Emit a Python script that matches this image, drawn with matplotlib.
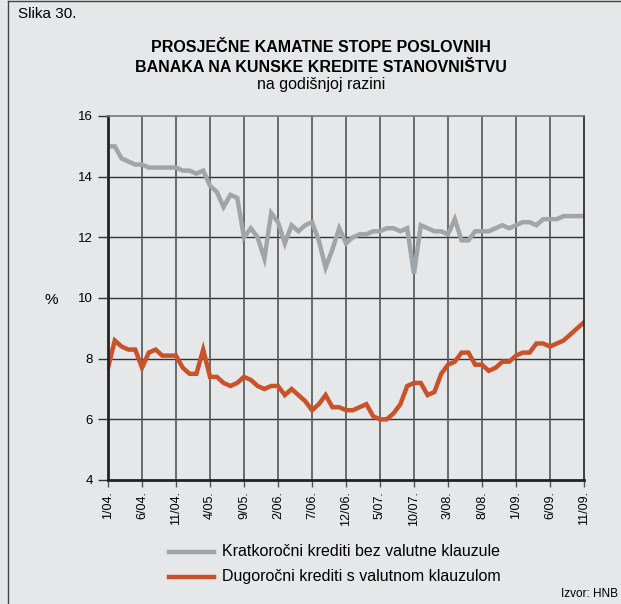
import numpy as np
import matplotlib
matplotlib.use("Agg")
import matplotlib.pyplot as plt
from matplotlib.lines import Line2D

plt.rcParams['font.family'] = ['Liberation Sans', 'DejaVu Sans']

# monthly data, 1/04 .. 11/09
months = [f"{m}/{y:02d}." for y in range(4, 10) for m in range(1, 13)][:71]

kratkorocni = [15.0, 15.0, 14.6, 14.5, 14.4, 14.4, 14.3, 14.3, 14.3, 14.3,
               14.3, 14.2, 14.2, 14.1, 14.2, 13.7, 13.5, 13.0, 13.4, 13.3,
               12.0, 12.3, 12.0, 11.3, 12.8, 12.5, 11.8, 12.4, 12.2, 12.4,
               12.5, 11.9, 11.0, 11.6, 12.3, 11.8, 12.0, 12.1, 12.1, 12.2,
               12.2, 12.3, 12.3, 12.2, 12.3, 10.8, 12.4, 12.3, 12.2, 12.2,
               12.1, 12.6, 11.9, 11.9, 12.2, 12.2, 12.2, 12.3, 12.4, 12.3,
               12.4, 12.5, 12.5, 12.4, 12.6, 12.6, 12.6, 12.7, 12.7, 12.7,
               12.7]

dugorocni = [7.7, 8.6, 8.4, 8.3, 8.3, 7.7, 8.2, 8.3, 8.1, 8.1,
             8.1, 7.7, 7.5, 7.5, 8.3, 7.4, 7.4, 7.2, 7.1, 7.2,
             7.4, 7.3, 7.1, 7.0, 7.1, 7.1, 6.8, 7.0, 6.8, 6.6,
             6.3, 6.5, 6.8, 6.4, 6.4, 6.3, 6.3, 6.4, 6.5, 6.1,
             6.0, 6.0, 6.2, 6.5, 7.1, 7.2, 7.2, 6.8, 6.9, 7.5,
             7.8, 7.9, 8.2, 8.2, 7.8, 7.8, 7.6, 7.7, 7.9, 7.9,
             8.1, 8.2, 8.2, 8.5, 8.5, 8.4, 8.5, 8.6, 8.8, 9.0,
             9.2]

label_k = "Kratkoročni krediti bez valutne klauzule"
label_d = "Dugoročni krediti s valutnom klauzulom"

bg = '#e6e7e8'
grey = '#a0a5a9'
orange = '#c9522b'

fig = plt.figure(figsize=(6.21, 6.04), dpi=100, facecolor=bg)
ax = fig.add_axes([108/621, 1 - 480/604, 476/621, 364/604])
ax.set_facecolor(bg)

x = np.arange(len(months))
ax.plot(x, kratkorocni, color=grey, lw=3.2, solid_joinstyle='miter')
ax.plot(x, dugorocni, color=orange, lw=3.2, solid_joinstyle='miter')

ax.set_xlim(0, len(months) - 1)
ax.set_ylim(4, 16)
ax.set_yticks(range(4, 17, 2))
xt = x[::5]
ax.set_xticks(xt)
ax.set_xticklabels([months[i] for i in xt], rotation=90, fontsize=9)
ax.tick_params(axis='y', labelsize=9.5, length=7, width=1, color='#333333', pad=4)
ax.tick_params(axis='x', length=5, width=1, color='#555555', pad=3)
for v in range(6, 16, 2):
    ax.axhline(v, color='#333333', lw=1.0, zorder=0)
for v in xt[1:-1]:
    ax.axvline(v, color='#555555', lw=1.2, zorder=0)

ax.spines['left'].set_linewidth(2)
ax.spines['left'].set_color('#222222')
ax.spines['bottom'].set_linewidth(2)
ax.spines['bottom'].set_color('#222222')
ax.spines['top'].set_color('#777777')
ax.spines['top'].set_linewidth(1.2)
ax.spines['right'].set_color('#222222')
ax.spines['right'].set_linewidth(1.2)

fig.text(51/621, 1 - 300/604, '%', fontsize=11, ha='center', va='center')

fig.text(18/621, 1 - 14/604, 'Slika 30.', fontsize=11, ha='left', va='center')
fig.text(321/621, 1 - 48/604, 'PROSJEČNE KAMATNE STOPE POSLOVNIH',
         fontsize=11.5, fontweight='bold', ha='center', va='center')
fig.text(321/621, 1 - 67/604, 'BANAKA NA KUNSKE KREDITE STANOVNIŠTVU',
         fontsize=11.5, fontweight='bold', ha='center', va='center')
fig.text(321/621, 1 - 85/604, 'na godišnjoj razini', fontsize=11.5,
         ha='center', va='center')

# legend drawn by hand in figure coordinates
for yy, col, lab in [(552, grey, label_k), (577, orange, label_d)]:
    fig.add_artist(Line2D([169/621, 214/621], [1 - yy/604, 1 - yy/604],
                          color=col, lw=3.2))
    fig.text(222/621, 1 - yy/604, lab, fontsize=11.5, ha='left', va='center')

fig.text(618/621, 1 - 594/604, 'Izvor: HNB', fontsize=8.5, ha='right',
         va='center')

# frame (top and left edges)
fig.add_artist(Line2D([8/621, 8/621], [0, 1 - 1/604], color='#444444', lw=1))
fig.add_artist(Line2D([8/621, 1], [1 - 1/604, 1 - 1/604], color='#444444', lw=1))

fig.savefig('out.png', dpi=100, facecolor=bg)
